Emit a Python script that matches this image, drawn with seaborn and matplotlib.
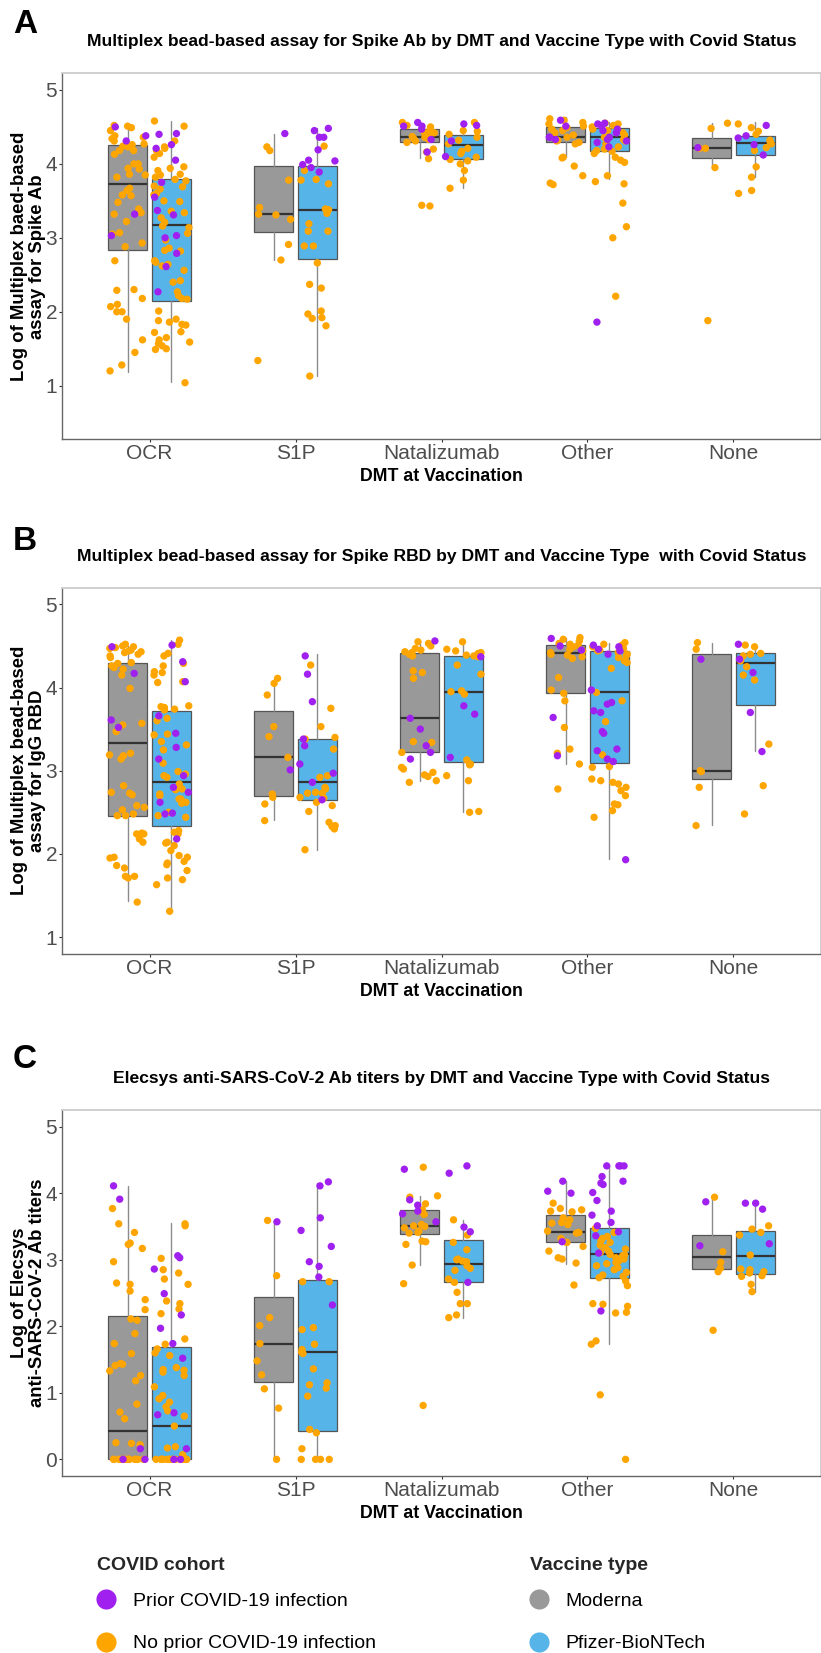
import numpy as np
import pandas as pd
import matplotlib
matplotlib.use("Agg")
import matplotlib.pyplot as plt
from matplotlib.lines import Line2D
import seaborn as sns

sns.set_style("white")
plt.rcParams["font.family"] = ["Liberation Sans", "DejaVu Sans"]

# ---------------- categories / labels ----------------
DMT = ["OCR", "S1P", "Natalizumab", "Other", "None"]
VACCINES = ["Moderna", "Pfizer-BioNTech"]
COHORTS = ["Prior COVID-19 infection", "No prior COVID-19 infection"]
VAX_COLORS = ["#999999", "#56B4E9"]
COH_COLORS = ["#A020F0", "#FFA500"]

TITLES = [
    "Multiplex bead-based assay for Spike Ab by DMT and Vaccine Type with Covid Status",
    "Multiplex bead-based assay for Spike RBD by DMT and Vaccine Type  with Covid Status",
    "Elecsys anti-SARS-CoV-2 Ab titers by DMT and Vaccine Type with Covid Status",
]
YLABELS = [
    "Log of Multiplex baed-based\nassay for Spike Ab",
    "Log of Multiplex bead-based\nassay for IgG RBD",
    "Log of Elecsys\nanti-SARS-CoV-2 Ab titers",
]
XLABEL = "DMT at Vaccination"
PANEL_LETTERS = ["A", "B", "C"]
YTICKS = [[1, 2, 3, 4, 5], [1, 2, 3, 4, 5], [0, 1, 2, 3, 4, 5]]
YLIMS = [(0.275, 5.225), (0.8, 5.2), (-0.25, 5.25)]

# ---------------- box statistics (order: OCR-Mod, OCR-Pfz, S1P-Mod, S1P-Pfz, Nat-Mod, Nat-Pfz, Oth-Mod, Oth-Pfz, None-Mod, None-Pfz)
A_lo  = [1.18, 1.05, 2.70, 1.13, 4.08, 3.67, 4.09, 3.79, 3.95, 3.82]
A_q1  = [2.83, 2.15, 3.08, 2.71, 4.30, 4.07, 4.29, 4.18, 4.08, 4.12]
A_med = [3.73, 3.17, 3.32, 3.38, 4.36, 4.26, 4.36, 4.36, 4.21, 4.28]
A_q3  = [4.25, 3.79, 3.97, 3.97, 4.47, 4.39, 4.50, 4.48, 4.35, 4.38]
A_hi  = [4.52, 4.58, 4.40, 4.49, 4.56, 4.58, 4.63, 4.57, 4.55, 4.56]

B_lo  = [1.43, 1.31, 2.41, 2.05, 2.88, 2.50, 3.08, 1.94, 2.35, 3.24]
B_q1  = [2.46, 2.33, 2.70, 2.65, 3.22, 3.11, 3.93, 3.09, 2.90, 3.79]
B_med = [3.33, 2.86, 3.16, 2.86, 3.63, 3.95, 4.41, 3.95, 3.00, 4.29]
B_q3  = [4.29, 3.72, 3.72, 3.38, 4.41, 4.38, 4.51, 4.44, 4.40, 4.41]
B_hi  = [4.50, 4.57, 4.10, 4.40, 4.56, 4.55, 4.60, 4.54, 4.53, 4.52]

C_lo  = [0.00, 0.00, 0.00, 0.00, 2.92, 2.13, 2.94, 1.73, 2.86, 2.52]
C_q1  = [0.00, 0.00, 1.16, 0.43, 3.38, 2.66, 3.26, 2.73, 2.86, 2.79]
C_med = [0.43, 0.50, 1.74, 1.61, 3.51, 2.94, 3.41, 3.08, 3.04, 3.06]
C_q3  = [2.15, 1.69, 2.44, 2.70, 3.75, 3.29, 3.67, 3.48, 3.37, 3.43]
C_hi  = [4.11, 3.55, 3.58, 4.15, 3.96, 3.60, 4.18, 4.41, 3.94, 3.85]

# ---------------- individual points: panel A ----------------
A_OCR_MOD_prior = [4.50, 4.38, 4.31, 3.32, 3.03]
A_OCR_MOD_no = [4.52, 4.51, 4.49, 4.45, 4.38, 4.36, 4.34, 4.31, 4.27, 4.26, 4.24, 4.23, 4.18, 4.18, 4.13, 4.00, 4.00, 3.94, 3.93, 3.86, 3.85, 3.82, 3.67, 3.64, 3.58, 3.57, 3.48, 3.39, 3.34, 3.32, 3.22, 3.07, 3.05, 2.93, 2.88, 2.69, 2.30, 2.29, 2.18, 2.10, 2.07, 2.00, 2.00, 1.90, 1.62, 1.45, 1.28, 1.20]
A_OCR_PFZ_prior = [4.41, 4.40, 4.26, 4.21, 4.05, 3.75, 3.55, 3.37, 3.31, 3.03, 3.00, 2.79, 2.61, 2.27]
A_OCR_PFZ_no = [4.58, 4.51, 4.31, 4.23, 4.21, 4.18, 4.14, 4.09, 3.96, 3.94, 3.91, 3.86, 3.85, 3.82, 3.79, 3.77, 3.70, 3.69, 3.66, 3.60, 3.58, 3.50, 3.49, 3.36, 3.34, 3.27, 3.21, 3.16, 3.14, 3.06, 2.97, 2.86, 2.83, 2.82, 2.69, 2.67, 2.64, 2.62, 2.56, 2.42, 2.40, 2.27, 2.22, 2.18, 2.17, 2.01, 1.90, 1.88, 1.86, 1.83, 1.82, 1.73, 1.72, 1.65, 1.62, 1.59, 1.57, 1.54, 1.50, 1.49, 1.04]
A_S1P_MOD_prior = [4.41]
A_S1P_MOD_no = [4.23, 4.18, 3.78, 3.41, 3.32, 3.31, 3.25, 2.91, 2.70, 1.34]
A_S1P_PFZ_prior = [4.48, 4.45, 4.36, 4.36, 4.19, 4.05, 4.04, 3.99, 3.95, 3.89]
A_S1P_PFZ_no = [4.24, 3.91, 3.79, 3.78, 3.73, 3.39, 3.38, 3.33, 3.19, 3.09, 3.09, 2.89, 2.89, 2.66, 2.37, 2.32, 2.01, 1.97, 1.92, 1.91, 1.81, 1.13]
A_NAT_MOD_prior = [4.56, 4.51, 4.51, 4.47, 4.33, 4.16]
A_NAT_MOD_no = [4.56, 4.52, 4.50, 4.46, 4.42, 4.42, 4.39, 4.37, 4.36, 4.34, 4.33, 4.31, 4.29, 4.20, 4.16, 4.07, 3.44, 3.43]
A_NAT_PFZ_prior = [4.54, 4.52, 4.31, 4.10]
A_NAT_PFZ_no = [4.56, 4.45, 4.44, 4.40, 4.36, 4.32, 4.27, 4.21, 4.17, 4.14, 4.09, 4.06, 4.04, 4.00, 3.91, 3.78, 3.67]
A_OTH_MOD_prior = [4.59, 4.51, 4.36, 4.36, 4.33]
A_OTH_MOD_no = [4.61, 4.59, 4.56, 4.54, 4.51, 4.49, 4.47, 4.45, 4.42, 4.39, 4.36, 4.32, 4.31, 4.29, 4.27, 4.09, 4.08, 3.97, 3.84, 3.74, 3.72]
A_OTH_PFZ_prior = [4.55, 4.54, 4.51, 4.47, 4.45, 4.42, 4.36, 4.33, 4.31, 4.29, 4.23, 1.86]
A_OTH_PFZ_no = [4.55, 4.54, 4.52, 4.50, 4.47, 4.45, 4.42, 4.39, 4.36, 4.33, 4.31, 4.27, 4.23, 4.20, 4.18, 4.17, 4.14, 4.09, 4.05, 4.02, 3.84, 3.76, 3.73, 3.47, 3.15, 3.00, 2.21]
A_NON_MOD_prior = [4.22]
A_NON_MOD_no = [4.55, 4.48, 4.21, 4.21, 3.95, 1.88]
A_NON_PFZ_prior = [4.52, 4.38, 4.35, 4.26, 4.12]
A_NON_PFZ_no = [4.54, 4.49, 4.44, 4.40, 4.32, 4.29, 4.27, 4.22, 4.18, 3.96, 3.82, 3.64, 3.60]

# ---------------- individual points: panel B ----------------
B_OCR_MOD_prior = [4.49, 4.17, 3.61, 3.52]
B_OCR_MOD_no = [4.52, 4.50, 4.49, 4.48, 4.47, 4.45, 4.44, 4.43, 4.42, 4.40, 4.38, 4.36, 4.30, 4.29, 4.26, 4.24, 4.22, 4.15, 3.99, 3.57, 3.55, 3.47, 3.21, 3.19, 3.18, 3.14, 2.82, 2.74, 2.73, 2.71, 2.58, 2.56, 2.53, 2.48, 2.46, 2.46, 2.25, 2.24, 2.24, 2.18, 2.14, 1.96, 1.95, 1.86, 1.83, 1.73, 1.73, 1.71, 1.42]
B_OCR_PFZ_prior = [4.51, 4.31, 4.07, 3.66, 3.45, 3.28, 3.14, 2.94, 2.80, 2.74, 2.62, 2.49, 2.48, 2.18]
B_OCR_PFZ_no = [4.57, 4.52, 4.41, 4.38, 4.29, 4.26, 4.19, 4.18, 4.15, 4.07, 4.06, 3.78, 3.77, 3.76, 3.74, 3.73, 3.63, 3.60, 3.44, 3.43, 3.35, 3.31, 3.25, 3.09, 2.99, 2.96, 2.94, 2.92, 2.84, 2.78, 2.77, 2.72, 2.70, 2.66, 2.66, 2.62, 2.61, 2.50, 2.46, 2.44, 2.28, 2.26, 2.24, 2.14, 2.13, 2.10, 2.04, 1.98, 1.96, 1.91, 1.89, 1.87, 1.80, 1.71, 1.69, 1.63, 1.31]
B_S1P_MOD_prior = [3.01]
B_S1P_MOD_no = [4.11, 4.05, 3.91, 3.53, 3.41, 3.16, 2.72, 2.68, 2.60, 2.40]
B_S1P_PFZ_prior = [4.38, 4.16, 3.83, 3.38, 3.30, 3.08, 2.97, 2.86, 2.65]
B_S1P_PFZ_no = [4.27, 3.75, 3.53, 3.40, 3.38, 3.26, 2.94, 2.92, 2.80, 2.78, 2.74, 2.73, 2.73, 2.68, 2.67, 2.62, 2.58, 2.51, 2.38, 2.34, 2.33, 2.30, 2.05]
B_NAT_MOD_prior = [4.56, 3.63, 3.50, 3.30, 3.22, 3.14]
B_NAT_MOD_no = [4.55, 4.53, 4.50, 4.47, 4.45, 4.43, 4.42, 4.40, 4.38, 4.20, 4.18, 4.11, 3.35, 3.34, 3.22, 3.04, 3.02, 2.98, 2.95, 2.93, 2.88, 2.86]
B_NAT_PFZ_prior = [4.37, 3.78, 3.68, 3.16]
B_NAT_PFZ_no = [4.55, 4.46, 4.44, 4.42, 4.41, 4.39, 4.38, 4.37, 4.27, 4.16, 3.96, 3.95, 3.92, 3.13, 3.08, 3.07, 2.94, 2.88, 2.51, 2.50]
B_OTH_MOD_prior = [4.59, 4.50, 4.45, 3.64, 3.18]
B_OTH_MOD_no = [4.60, 4.58, 4.56, 4.53, 4.52, 4.51, 4.49, 4.46, 4.44, 4.42, 4.40, 4.39, 4.37, 4.35, 4.12, 3.97, 3.93, 3.84, 3.52, 3.26, 3.21, 3.08, 2.78]
B_OTH_PFZ_prior = [4.51, 4.49, 4.46, 4.44, 4.40, 3.97, 3.82, 3.80, 3.72, 3.70, 3.47, 3.45, 3.26, 3.24, 3.14, 3.11, 1.93]
B_OTH_PFZ_no = [4.54, 4.52, 4.51, 4.49, 4.47, 4.45, 4.44, 4.42, 4.40, 4.38, 4.36, 4.32, 4.30, 4.23, 3.94, 3.84, 3.59, 3.19, 3.05, 3.04, 2.90, 2.88, 2.86, 2.84, 2.80, 2.76, 2.70, 2.60, 2.59, 2.52, 2.44]
B_NON_MOD_prior = [4.34]
B_NON_MOD_no = [4.54, 4.46, 3.00, 2.99, 2.80, 2.34]
B_NON_PFZ_prior = [4.52, 4.34, 4.18, 3.70, 3.23]
B_NON_PFZ_no = [4.51, 4.49, 4.41, 4.40, 4.38, 4.32, 4.25, 4.15, 4.09, 3.32, 2.82, 2.48]

# ---------------- individual points: panel C ----------------
C_OCR_MOD_prior = [4.11, 3.91, 0.16, 0.0, 0.0]
C_OCR_MOD_no = [3.77, 3.54, 3.41, 3.25, 3.23, 3.17, 2.97, 2.65, 2.63, 2.53, 2.40, 2.25, 2.11, 2.09, 1.89, 1.74, 1.59, 1.44, 1.43, 1.41, 1.33, 1.26, 1.18, 0.83, 0.71, 0.61, 0.25, 0.24, 0.22,
                0.0, 0.0, 0.0, 0.0, 0.0, 0.0, 0.0, 0.0, 0.0, 0.0, 0.0, 0.0, 0.0, 0.0]
C_OCR_PFZ_prior = [3.06, 3.03, 2.86, 2.49, 2.17, 1.97, 1.74, 1.52, 0.70, 0.67, 0.16, 0.0, 0.0]
C_OCR_PFZ_no = [3.54, 3.51, 3.02, 2.85, 2.80, 2.71, 2.63, 2.38, 2.34, 2.26, 2.19, 1.81, 1.73, 1.66, 1.60, 1.56, 1.38, 1.35, 1.34, 1.31, 1.26, 1.09, 0.96, 0.91, 0.86, 0.79, 0.73, 0.65, 0.50, 0.19, 0.17, 0.07,
                0.0, 0.0, 0.0, 0.0, 0.0, 0.0, 0.0, 0.0, 0.0, 0.0, 0.0, 0.0, 0.0, 0.0, 0.0, 0.0, 0.0, 0.0]
C_S1P_MOD_prior = [3.57]
C_S1P_MOD_no = [3.59, 2.76, 2.13, 2.01, 1.74, 1.48, 1.27, 1.06, 0.77, 0.0]
C_S1P_PFZ_prior = [4.17, 4.11, 3.63, 3.44, 3.20, 2.97, 2.90, 2.74, 2.32]
C_S1P_PFZ_no = [2.67, 2.67, 1.98, 1.95, 1.73, 1.65, 1.61, 1.59, 1.36, 1.15, 1.12, 1.07, 0.95, 0.45, 0.40, 0.16, 0.0, 0.0, 0.0, 0.0]
C_NAT_MOD_prior = [4.36, 3.90, 3.82, 3.73, 3.69, 3.57]
C_NAT_MOD_no = [4.39, 3.96, 3.94, 3.84, 3.75, 3.73, 3.68, 3.53, 3.51, 3.50, 3.48, 3.43, 3.41, 3.40, 3.28, 3.27, 3.23, 2.92, 2.64, 0.81]
C_NAT_PFZ_prior = [4.41, 4.30, 3.49, 3.42, 2.66]
C_NAT_PFZ_no = [3.60, 3.37, 3.26, 3.15, 3.01, 3.00, 2.98, 2.97, 2.91, 2.87, 2.84, 2.71, 2.66, 2.51, 2.34, 2.34, 2.17, 2.13]
C_OTH_MOD_prior = [4.18, 4.03, 4.00, 3.27]
C_OTH_MOD_no = [3.85, 3.77, 3.75, 3.73, 3.72, 3.63, 3.60, 3.56, 3.55, 3.53, 3.43, 3.41, 3.40, 3.32, 3.26, 3.26, 3.20, 3.13, 3.03, 3.01, 2.95, 2.62]
C_OTH_PFZ_prior = [4.41, 4.41, 4.41, 4.41, 4.25, 4.18, 4.15, 4.13, 4.01, 3.89, 3.73, 3.67, 3.56, 3.51, 3.42, 3.36, 3.10, 2.23]
C_OTH_PFZ_no = [3.47, 3.41, 3.35, 3.32, 3.28, 3.26, 3.22, 3.18, 3.16, 3.13, 3.11, 3.08, 3.07, 3.06, 3.03, 3.01, 2.98, 2.96, 2.94, 2.91, 2.88, 2.85, 2.81, 2.77, 2.75, 2.73, 2.68, 2.61, 2.34, 2.33, 2.30, 2.21, 2.20, 1.78, 1.73, 0.97, 0.0]
C_NON_MOD_prior = [3.87, 3.21]
C_NON_MOD_no = [3.94, 3.12, 2.96, 2.87, 2.82, 1.94]
C_NON_PFZ_prior = [3.85, 3.85, 3.76, 3.24]
C_NON_PFZ_no = [3.51, 3.46, 3.41, 3.37, 3.07, 2.86, 2.85, 2.82, 2.80, 2.76, 2.75, 2.63, 2.52]

# group tables built from the named arrays
PANEL_POINTS = [
    [(A_OCR_MOD_prior, A_OCR_MOD_no), (A_OCR_PFZ_prior, A_OCR_PFZ_no), (A_S1P_MOD_prior, A_S1P_MOD_no), (A_S1P_PFZ_prior, A_S1P_PFZ_no),
     (A_NAT_MOD_prior, A_NAT_MOD_no), (A_NAT_PFZ_prior, A_NAT_PFZ_no), (A_OTH_MOD_prior, A_OTH_MOD_no), (A_OTH_PFZ_prior, A_OTH_PFZ_no),
     (A_NON_MOD_prior, A_NON_MOD_no), (A_NON_PFZ_prior, A_NON_PFZ_no)],
    [(B_OCR_MOD_prior, B_OCR_MOD_no), (B_OCR_PFZ_prior, B_OCR_PFZ_no), (B_S1P_MOD_prior, B_S1P_MOD_no), (B_S1P_PFZ_prior, B_S1P_PFZ_no),
     (B_NAT_MOD_prior, B_NAT_MOD_no), (B_NAT_PFZ_prior, B_NAT_PFZ_no), (B_OTH_MOD_prior, B_OTH_MOD_no), (B_OTH_PFZ_prior, B_OTH_PFZ_no),
     (B_NON_MOD_prior, B_NON_MOD_no), (B_NON_PFZ_prior, B_NON_PFZ_no)],
    [(C_OCR_MOD_prior, C_OCR_MOD_no), (C_OCR_PFZ_prior, C_OCR_PFZ_no), (C_S1P_MOD_prior, C_S1P_MOD_no), (C_S1P_PFZ_prior, C_S1P_PFZ_no),
     (C_NAT_MOD_prior, C_NAT_MOD_no), (C_NAT_PFZ_prior, C_NAT_PFZ_no), (C_OTH_MOD_prior, C_OTH_MOD_no), (C_OTH_PFZ_prior, C_OTH_PFZ_no),
     (C_NON_MOD_prior, C_NON_MOD_no), (C_NON_PFZ_prior, C_NON_PFZ_no)],
]
PANEL_BOXES = [
    (A_lo, A_q1, A_med, A_q3, A_hi),
    (B_lo, B_q1, B_med, B_q3, B_hi),
    (C_lo, C_q1, C_med, C_q3, C_hi),
]

# ---------------- figure ----------------
W, H = 821, 1653
fig = plt.figure(figsize=(W / 100, H / 100), dpi=100)

AX_LEFT = 62 / W
AX_W = 1 - AX_LEFT
AX_TOPS = [73.3, 587.7, 1110.0]
AX_H_PX = 366.0
LETTER_BASE = [33, 550, 1068]

DODGE = 0.15
BOX_W = 0.27
JIT = 0.125
rng = np.random.default_rng(11)

for p in range(3):
    top = AX_TOPS[p]
    ax = fig.add_axes([AX_LEFT, 1 - (top + AX_H_PX) / H, AX_W, AX_H_PX / H])

    # build long-form dataframe
    rows = []
    for g, (prior_vals, no_vals) in enumerate(PANEL_POINTS[p]):
        d, v = divmod(g, 2)
        center = d + 1 + (-DODGE if v == 0 else DODGE)
        for coh, vals in ((COHORTS[1], no_vals), (COHORTS[0], prior_vals)):
            for val in vals:
                rows.append({"DMT": DMT[d], "Vaccine": VACCINES[v], "Cohort": coh,
                             "value": val, "xpos": center + rng.uniform(-JIT, JIT)})
    df = pd.DataFrame(rows)

    # boxes
    lo, q1, med, q3, hi = PANEL_BOXES[p]
    for v in range(2):
        stats, pos = [], []
        for d in range(5):
            g = 2 * d + v
            stats.append({"whislo": lo[g], "q1": q1[g], "med": med[g], "q3": q3[g], "whishi": hi[g], "fliers": []})
            pos.append(d + 1 + (-DODGE if v == 0 else DODGE))
        ax.bxp(stats, positions=pos, widths=BOX_W, patch_artist=True, showcaps=False, showfliers=False,
               boxprops=dict(facecolor=VAX_COLORS[v], edgecolor="#555555", linewidth=0.9),
               medianprops=dict(color="#333333", linewidth=1.6),
               whiskerprops=dict(color="#8C8C8C", linewidth=1.0), zorder=1)

    # points
    sns.scatterplot(data=df, x="xpos", y="value", hue="Cohort",
                    hue_order=[COHORTS[1], COHORTS[0]],
                    palette={COHORTS[0]: COH_COLORS[0], COHORTS[1]: COH_COLORS[1]},
                    s=28, linewidth=0, legend=False, ax=ax, zorder=3)

    ax.set_xlim(0.4, 5.6)
    ax.set_ylim(*YLIMS[p])
    ax.set_xticks(range(1, 6))
    ax.set_xticklabels(DMT)
    ax.set_yticks(YTICKS[p])
    ax.set_yticklabels([str(t) for t in YTICKS[p]])
    ax.tick_params(axis="both", which="both", bottom=True, left=True, length=2.5, width=0.8,
                   color="#333333", labelcolor="#4D4D4D", labelsize=15, pad=1.0)

    for side in ("top", "right"):
        ax.spines[side].set_color("#CCCCCC")
        ax.spines[side].set_linewidth(1.3)
    for side in ("left", "bottom"):
        ax.spines[side].set_color("#666666")
        ax.spines[side].set_linewidth(1.0)

    ax.set_xlabel(XLABEL, fontsize=12.8, fontweight="bold", color="black")
    ax.xaxis.label.set_va("baseline")
    ax.xaxis.set_label_coords(0.5, -42 / AX_H_PX)
    ax.set_ylabel(YLABELS[p], fontsize=13.3, fontweight="bold", color="black", linespacing=1.1)
    ax.yaxis.set_label_coords(-16 / (W - 62), 0.5)
    ax.set_title(TITLES[p], fontsize=12.6, fontweight="bold", color="black", pad=19.3)

    fig.text(13 / W, 1 - LETTER_BASE[p] / H, PANEL_LETTERS[p], fontsize=24, fontweight="bold",
             va="baseline", ha="left", color="black")

# ---------------- legends ----------------
def legend_block(x_title, x_marker, x_text, title, labels, colors):
    fig.text(x_title / W, 1 - 1570 / H, title, fontsize=14, fontweight="bold", va="baseline", ha="left")
    for i, (lab, col) in enumerate(zip(labels, colors)):
        yc = 1599 + 43 * i
        fig.add_artist(Line2D([x_marker / W], [1 - yc / H], marker="o", markersize=14.5, linestyle="none",
                              markerfacecolor=col, markeredgewidth=0, transform=fig.transFigure))
        fig.text(x_text / W, 1 - (yc + 6.5) / H, lab, fontsize=14, va="baseline", ha="left", color="black")

legend_block(97, 106, 133, "COVID cohort", COHORTS, COH_COLORS)
legend_block(530, 539, 565, "Vaccine type", VACCINES, VAX_COLORS)

fig.savefig("out.png", dpi=100)
